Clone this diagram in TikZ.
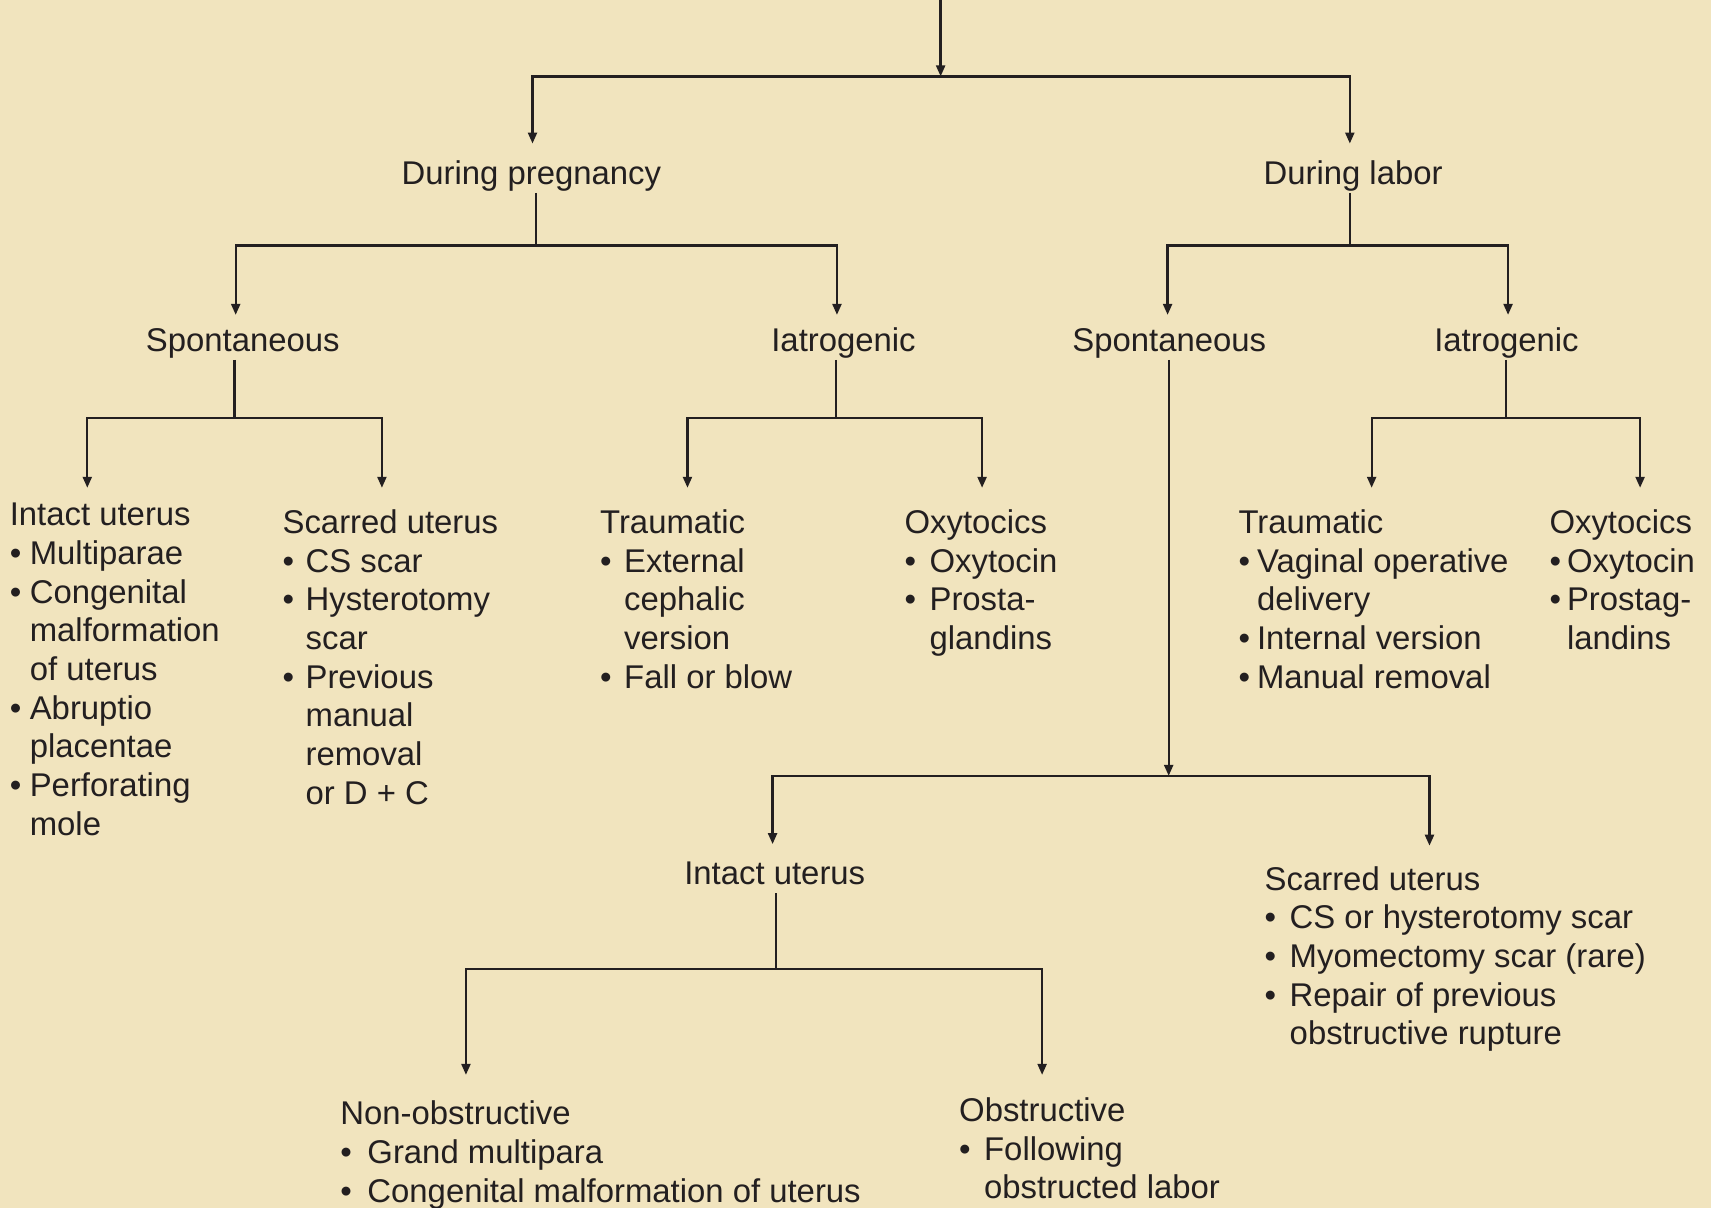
\documentclass[tikz,border=0pt]{standalone}
\usepackage{fontspec}
\setmainfont{Liberation Sans}
\usetikzlibrary{positioning,calc,arrows.meta}
\definecolor{PageTan}{HTML}{F1E4BE}
\definecolor{InkDark}{HTML}{231F20}
\newlength{\bulw}
\newcommand{\bul}{\makebox[\bulw][l]{\textbullet}}
\newcommand{\cont}{\hspace*{\bulw}}

\begin{document}
\begin{tikzpicture}[
  x=0.010912cm, y=-0.010912cm,
  every node/.style={text=InkDark, font=\fontsize{9.35}{11}\selectfont, inner sep=0pt, outer sep=0pt},
  head/.style={anchor=base, text height=0.75em, text depth=0.25em},
  list/.style={anchor=north west, align=left, execute at begin node={\global\bulw=#1\relax}},
  list/.default=2.1mm,
  line/.style={draw=InkDark, line width=0.65pt},
  arr/.style={line, -{Triangle[length=1.1mm,width=0.9mm]}}
]
\fill[PageTan] (0,0) rectangle (1568,1107);
\useasboundingbox (0,0) rectangle (1568,1107);

% headings
\node[head] (preg) at (487,168.7) {During pregnancy};
\node[head] (labor) at (1240,168.7) {During labor};
\node[head] (sponP) at (222.5,321.7) {Spontaneous};
\node[head] (iatP) at (773,321.7) {Iatrogenic};
\node[head] (sponL) at (1071.5,321.7) {Spontaneous};
\node[head] (iatL) at (1380.5,321.7) {Iatrogenic};
\node[head] (intactL) at (710,810.7) {Intact uterus};

% lists
\node[list=2.0mm] (intactP) at (9,461) {Intact uterus\\ \bul Multiparae\\ \bul Congenital\\ \cont malformation\\ \cont of uterus\\ \bul Abruptio\\ \cont placentae\\ \bul Perforating\\ \cont mole};
\node[list=2.3mm] (scarP) at (259,467) {Scarred uterus\\ \bul CS scar\\ \bul Hysterotomy\\ \cont scar\\ \bul Previous\\ \cont manual\\ \cont removal\\ \cont or D + C};
\node[list=2.4mm] (traumP) at (550,467) {Traumatic\\ \bul External\\ \cont cephalic\\ \cont version\\ \bul Fall or blow};
\node[list=2.5mm] (oxyP) at (829,467) {Oxytocics\\ \bul Oxytocin\\ \bul Prosta-\\ \cont glandins};
\node[list=1.85mm] (traumL) at (1135,467) {Traumatic\\ \bul Vaginal operative\\ \cont delivery\\ \bul Internal version\\ \bul Manual removal};
\node[list=1.75mm] (oxyL) at (1420,467) {Oxytocics\\ \bul Oxytocin\\ \bul Prostag-\\ \cont landins};
\node[list=2.5mm] (scarL) at (1159,794) {Scarred uterus\\ \bul CS or hysterotomy scar\\ \bul Myomectomy scar (rare)\\ \bul Repair of previous\\ \cont obstructive rupture};
\node[list=2.7mm] (nonobst) at (312,1009) {Non-obstructive\\ \bul Grand multipara\\ \bul Congenital malformation of uterus};
\node[list=2.5mm] (obst) at (879,1006) {Obstructive\\ \bul Following\\ \cont obstructed labor};

% junctions
\coordinate (root) at (862,0);
\coordinate (rootJ) at (862,70);
\coordinate (pregJ) at (491,225);
\coordinate (laborJ) at (1237,225);
\coordinate (sponPJ) at (215,383);
\coordinate (iatPJ) at (766,383);
\coordinate (iatLJ) at (1380,383);
\coordinate (sponLJ) at (1071,711);
\coordinate (intactLJ) at (711,888);

% connectors
\draw[arr] (root) -- (rootJ);
\draw[arr] (rootJ) -| ($(preg.north)+(1,-13)$);
\draw[arr] (rootJ) -| ($(labor.north)+(-3,-13)$);

\draw[line] (preg.south -| pregJ) -- (pregJ);
\draw[arr] (pregJ) -| ($(sponP.north)+(-6.5,-9)$);
\draw[arr] (pregJ) -| ($(iatP.north)+(-6,-9)$);

\draw[line] (labor.south -| laborJ) -- (laborJ);
\draw[arr] (laborJ) -| ($(sponL.north)+(-1.5,-9)$);
\draw[arr] (laborJ) -| ($(iatL.north)+(1.5,-9)$);

\draw[line] (sponP.south -| sponPJ) -- (sponPJ);
\draw[arr] (sponPJ) -| ($(intactP.north west)+(71,-14)$);
\draw[arr] (sponPJ) -| ($(scarP.north west)+(91,-20)$);

\draw[line] (iatP.south -| iatPJ) -- (iatPJ);
\draw[arr] (iatPJ) -| ($(traumP.north west)+(80,-20)$);
\draw[arr] (iatPJ) -| ($(oxyP.north west)+(71,-20)$);

\draw[line] (iatL.south -| iatLJ) -- (iatLJ);
\draw[arr] (iatLJ) -| ($(traumL.north west)+(122,-20)$);
\draw[arr] (iatLJ) -| ($(oxyL.north west)+(83,-20)$);

\draw[arr] (sponL.south -| sponLJ) -- (sponLJ);
\draw[arr] (sponLJ) -| ($(intactL.north)+(-2,-13)$);
\draw[arr] (sponLJ) -| ($(scarL.north west)+(151,-19)$);

\draw[line] (intactL.south -| intactLJ) -- (intactLJ);
\draw[arr] (intactLJ) -| ($(nonobst.north west)+(115,-24)$);
\draw[arr] (intactLJ) -| ($(obst.north west)+(76,-21)$);
\end{tikzpicture}
\end{document}
